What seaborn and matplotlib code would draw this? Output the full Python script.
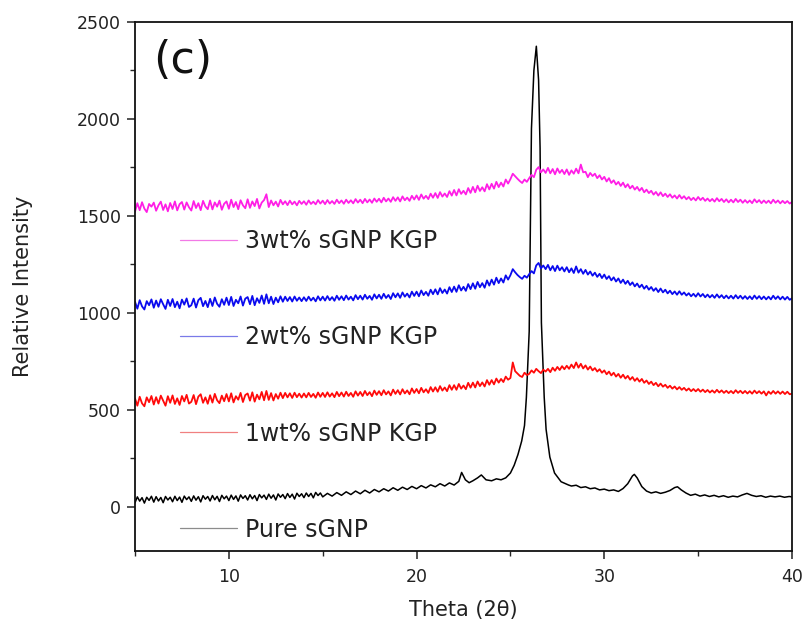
import numpy as np
import pandas as pd
import matplotlib
matplotlib.use("Agg")
import matplotlib.pyplot as plt
from matplotlib.lines import Line2D
from matplotlib.ticker import MultipleLocator
import seaborn as sns

# 2-theta sampling for the composite patterns (0.125 deg steps, 5..40)
theta = np.arange(5.0, 40.001, 0.125)

# 3wt% sGNP KGP (one row per degree)
kgp3 = [
    1522, 1566, 1530, 1571, 1538, 1520, 1562, 1548,
    1569, 1527, 1555, 1574, 1531, 1560, 1524, 1567,
    1536, 1575, 1529, 1561, 1572, 1533, 1570, 1545,
    1528, 1577, 1541, 1566, 1530, 1578, 1549, 1535,
    1580, 1534, 1570, 1548, 1579, 1532, 1563, 1575,
    1537, 1584, 1546, 1572, 1535, 1581, 1555, 1540,
    1586, 1542, 1575, 1551, 1588, 1539, 1569, 1582,
    1612, 1546, 1580, 1555, 1574, 1549, 1583, 1560,
    1576, 1556, 1579, 1560, 1574, 1555, 1578, 1562,
    1576, 1558, 1580, 1562, 1574, 1560, 1582, 1564,
    1579, 1561, 1582, 1564, 1577, 1562, 1584, 1566,
    1580, 1563, 1584, 1567, 1581, 1565, 1587, 1569,
    1584, 1566, 1588, 1570, 1585, 1568, 1590, 1573,
    1589, 1570, 1594, 1575, 1590, 1573, 1597, 1578,
    1596, 1575, 1601, 1581, 1595, 1578, 1604, 1585,
    1606, 1583, 1611, 1589, 1604, 1587, 1615, 1594,
    1618, 1593, 1623, 1600, 1616, 1598, 1628, 1605,
    1634, 1606, 1638, 1614, 1630, 1611, 1644, 1619,
    1650, 1622, 1656, 1629, 1648, 1627, 1664, 1637,
    1666, 1641, 1676, 1649, 1672, 1652, 1688, 1667,
    1690, 1718, 1705, 1692, 1680, 1670, 1688, 1676,
    1695, 1712, 1700, 1738, 1752, 1725, 1740, 1722,
    1748, 1720, 1742, 1715, 1745, 1722, 1738, 1716,
    1740, 1712, 1735, 1718, 1744, 1720, 1765, 1725,
    1728, 1700, 1722, 1706, 1718, 1695, 1710, 1688,
    1702, 1678, 1695, 1670, 1684, 1662, 1676, 1655,
    1672, 1648, 1664, 1642, 1656, 1636, 1650, 1630,
    1645, 1622, 1636, 1618, 1630, 1610, 1624, 1605,
    1622, 1602, 1615, 1598, 1612, 1594, 1606, 1590,
    1608, 1590, 1602, 1586, 1598, 1582, 1594, 1580,
    1598, 1582, 1594, 1578, 1590, 1576, 1588, 1574,
    1592, 1576, 1588, 1572, 1586, 1570, 1584, 1570,
    1588, 1572, 1584, 1568, 1582, 1568, 1580, 1566,
    1586, 1570, 1582, 1566, 1580, 1567, 1579, 1565,
    1584, 1568, 1580, 1565, 1578, 1566, 1577, 1564,
    1572,
]

# 2wt% sGNP KGP
kgp2 = [
    1058, 1022, 1066, 1034, 1018, 1061, 1040, 1070,
    1027, 1064, 1032, 1071, 1045, 1021, 1068, 1036,
    1072, 1030, 1058, 1024, 1069, 1043, 1075, 1031,
    1040, 1074, 1028, 1066, 1078, 1035, 1062, 1030,
    1073, 1036, 1080, 1047, 1032, 1071, 1042, 1079,
    1041, 1083, 1036, 1068, 1050, 1085, 1038, 1074,
    1082, 1045, 1088, 1040, 1076, 1052, 1090, 1047,
    1096, 1050, 1084, 1046, 1079, 1055, 1086, 1058,
    1084, 1062, 1082, 1059, 1085, 1063, 1080, 1061,
    1081, 1062, 1084, 1064, 1079, 1060, 1086, 1065,
    1084, 1064, 1087, 1066, 1082, 1063, 1089, 1068,
    1086, 1066, 1090, 1069, 1084, 1065, 1092, 1071,
    1089, 1069, 1094, 1073, 1088, 1068, 1096, 1075,
    1094, 1073, 1099, 1077, 1093, 1072, 1102, 1081,
    1101, 1078, 1106, 1084, 1100, 1080, 1110, 1088,
    1110, 1086, 1116, 1092, 1109, 1089, 1120, 1097,
    1122, 1096, 1128, 1103, 1121, 1100, 1133, 1108,
    1136, 1109, 1143, 1116, 1135, 1114, 1149, 1123,
    1153, 1125, 1160, 1133, 1154, 1130, 1168, 1141,
    1172, 1146, 1182, 1154, 1178, 1157, 1194, 1172,
    1195, 1226, 1210, 1196, 1185, 1176, 1192, 1182,
    1200, 1216, 1204, 1245, 1258, 1230, 1245, 1226,
    1248, 1220, 1242, 1216, 1244, 1220, 1236, 1214,
    1236, 1210, 1230, 1206, 1240, 1208, 1226, 1202,
    1222, 1198, 1214, 1192, 1208, 1186, 1202, 1180,
    1198, 1175, 1190, 1168, 1184, 1162, 1178, 1155,
    1172, 1150, 1166, 1144, 1158, 1137, 1152, 1132,
    1146, 1125, 1140, 1120, 1134, 1114, 1128, 1108,
    1126, 1106, 1120, 1101, 1115, 1097, 1111, 1094,
    1112, 1094, 1106, 1090, 1102, 1086, 1099, 1084,
    1102, 1085, 1098, 1081, 1095, 1080, 1093, 1078,
    1096, 1079, 1092, 1076, 1090, 1075, 1089, 1074,
    1092, 1075, 1089, 1073, 1087, 1072, 1086, 1071,
    1090, 1073, 1087, 1071, 1085, 1070, 1084, 1070,
    1089, 1072, 1086, 1070, 1084, 1069, 1083, 1068,
    1076,
]

# 1wt% sGNP KGP
kgp1 = [
    560, 522, 568, 534, 519, 565, 540, 572,
    528, 566, 533, 574, 548, 522, 571, 537,
    575, 531, 560, 526, 572, 544, 578, 533,
    542, 577, 530, 569, 581, 537, 565, 532,
    576, 538, 583, 550, 535, 574, 545, 582,
    544, 586, 539, 571, 553, 588, 541, 577,
    585, 548, 591, 543, 579, 555, 593, 550,
    598, 552, 587, 549, 582, 558, 589, 561,
    588, 565, 586, 562, 589, 566, 584, 564,
    585, 565, 588, 567, 583, 563, 590, 568,
    588, 567, 591, 569, 586, 566, 593, 571,
    590, 569, 594, 572, 588, 568, 596, 574,
    593, 572, 598, 576, 592, 571, 600, 578,
    597, 576, 602, 580, 596, 575, 605, 583,
    602, 580, 607, 585, 601, 581, 611, 588,
    608, 586, 614, 591, 607, 588, 618, 595,
    617, 594, 623, 600, 616, 597, 628, 604,
    628, 604, 634, 610, 626, 607, 640, 615,
    641, 616, 647, 623, 642, 621, 654, 630,
    654, 632, 662, 641, 660, 644, 672, 656,
    665, 745, 700, 688, 676, 670, 692, 680,
    686, 704, 692, 712, 700, 690, 708, 698,
    712, 695, 718, 702, 722, 706, 726, 710,
    728, 712, 734, 716, 745, 718, 738, 714,
    730, 708, 724, 704, 716, 698, 710, 692,
    704, 684, 698, 678, 692, 672, 686, 666,
    682, 662, 676, 656, 670, 650, 664, 646,
    660, 640, 652, 634, 646, 628, 640, 622,
    636, 620, 630, 614, 625, 610, 621, 606,
    618, 604, 614, 600, 611, 597, 608, 596,
    608, 594, 605, 592, 603, 590, 601, 589,
    604, 590, 601, 588, 599, 587, 598, 586,
    602, 588, 599, 586, 598, 585, 597, 584,
    600, 586, 597, 584, 596, 575, 595, 583,
    598, 584, 596, 583, 595, 582, 594, 581,
    584,
]

# Pure sGNP: dense sampling below 15 deg, finer steps around the (002) reflection
theta_pure_low = np.arange(5.0, 14.999, 0.125)
pure_low = [
    22, 52, 30, 48, 20, 50, 34, 55,
    25, 53, 31, 49, 22, 54, 36, 50,
    27, 55, 33, 51, 24, 56, 38, 52,
    29, 57, 35, 53, 26, 58, 40, 54,
    31, 59, 37, 55, 28, 60, 42, 56,
    33, 61, 39, 57, 30, 62, 44, 58,
    36, 63, 42, 59, 33, 64, 47, 61,
    39, 66, 45, 62, 36, 67, 50, 64,
    43, 69, 49, 66, 41, 71, 54, 68,
    48, 72, 54, 70, 47, 75, 59, 72,
]
theta_pure_high = [
    15.0, 15.25, 15.5, 15.75, 16.0, 16.25, 16.5, 16.75,
    17.0, 17.25, 17.5, 17.75, 18.0, 18.25, 18.5, 18.75, 19.0, 19.25, 19.5, 19.75,
    20.0, 20.25, 20.5, 20.75, 21.0, 21.25, 21.5, 21.75, 22.0, 22.25, 22.4, 22.6,
    22.8, 23.0, 23.25, 23.45, 23.7, 24.0, 24.25, 24.5, 24.75, 25.0, 25.2, 25.4,
    25.6, 25.75, 25.85, 26.0, 26.12, 26.25, 26.38, 26.5, 26.58, 26.65, 26.8, 26.9,
    27.1, 27.35, 27.7, 28.1, 28.25, 28.5, 28.75, 29.0, 29.25, 29.5, 29.75, 30.0,
    30.25, 30.5, 30.75, 31.0, 31.25, 31.5, 31.6, 31.75, 32.0, 32.25, 32.5, 32.75,
    33.0, 33.25, 33.5, 33.75, 33.9, 34.1, 34.35, 34.6, 34.85, 35.1, 35.35, 35.6,
    35.85, 36.1, 36.35, 36.6, 36.85, 37.1, 37.35, 37.6, 37.85, 38.1, 38.35, 38.6,
    38.85, 39.1, 39.35, 39.6, 39.85, 40.0,
]
pure_high = [
    52, 70, 56, 74, 60, 78, 64, 82,
    68, 86, 72, 90, 78, 94, 82, 99, 86, 102, 90, 106,
    94, 110, 98, 114, 104, 120, 108, 124, 113, 132, 178, 140,
    125, 135, 150, 165, 140, 135, 145, 140, 150, 175, 215, 270,
    340, 420, 565, 905, 1950, 2250, 2375, 2200, 1850, 950, 565, 400,
    257, 175, 130, 113, 108, 112, 100, 104, 94, 98, 88, 92,
    84, 88, 80, 95, 120, 160, 168, 150, 105, 82, 72, 78,
    70, 76, 85, 100, 104, 88, 72, 60, 66, 56, 62, 54,
    60, 52, 58, 50, 56, 52, 62, 70, 60, 54, 58, 50,
    56, 52, 56, 50, 54, 52,
]

labels = ["3wt% sGNP KGP", "2wt% sGNP KGP", "1wt% sGNP KGP", "Pure sGNP"]
line_colors = ["#ff1ee6", "#0a0aee", "#ff0a0a", "#000000"]
handle_colors = ["#f27ae6", "#7a7ae8", "#f08080", "#8c8c8c"]

sns.set_theme(style="ticks")
plt.rcParams["font.family"] = ["DejaVu Sans"]

fig = plt.figure(figsize=(8.06, 6.39), dpi=100)
ax = fig.add_axes([135 / 806, 1 - 551 / 639, (792 - 135) / 806, (551 - 22) / 639])

df_pure = pd.DataFrame({
    "theta": np.concatenate([theta_pure_low, theta_pure_high]),
    "I": pure_low + pure_high,
})
sns.lineplot(data=df_pure, x="theta", y="I", color=line_colors[3], linewidth=1.1,
             ax=ax, sort=False, estimator=None)
for vals, col in zip([kgp1, kgp2, kgp3], [line_colors[2], line_colors[1], line_colors[0]]):
    df = pd.DataFrame({"theta": theta, "I": vals})
    sns.lineplot(data=df, x="theta", y="I", color=col, linewidth=1.3,
                 ax=ax, sort=False, estimator=None)

ax.set_xlim(5, 40)
ax.set_ylim(-227, 2500)
ax.xaxis.set_major_locator(MultipleLocator(10))
ax.xaxis.set_minor_locator(MultipleLocator(5))
ax.yaxis.set_major_locator(MultipleLocator(500))
ax.yaxis.set_minor_locator(MultipleLocator(250))
ax.tick_params(which="major", direction="out", length=6, width=1.1,
               labelsize=12.5, colors="#222222", pad=4)
ax.tick_params(which="minor", direction="out", length=3.5, width=1.0)
ax.tick_params(axis="x", which="major", pad=6)
for s in ax.spines.values():
    s.set_linewidth(1.3)
    s.set_color("#111111")

ax.set_xlabel("Theta (2\u03b8)", fontsize=15, color="#222222", labelpad=10)
ax.set_ylabel("Relative Intensity", fontsize=15, color="#222222", labelpad=32)

ax.text(0.028, 0.928, "(c)", transform=ax.transAxes, fontsize=32,
        ha="left", va="center", color="#111111")

handles = [Line2D([], [], color=c, linewidth=0.9) for c in handle_colors]
ax.legend(handles, labels, loc="upper left",
          bbox_to_anchor=(180 / 806, 1 - 229 / 639), bbox_transform=fig.transFigure,
          frameon=False, fontsize=17, handlelength=2.4, handletextpad=0.35,
          labelspacing=3.06, borderpad=0, borderaxespad=0, labelcolor="#222222")

fig.savefig("out.png", dpi=100, facecolor="white")
